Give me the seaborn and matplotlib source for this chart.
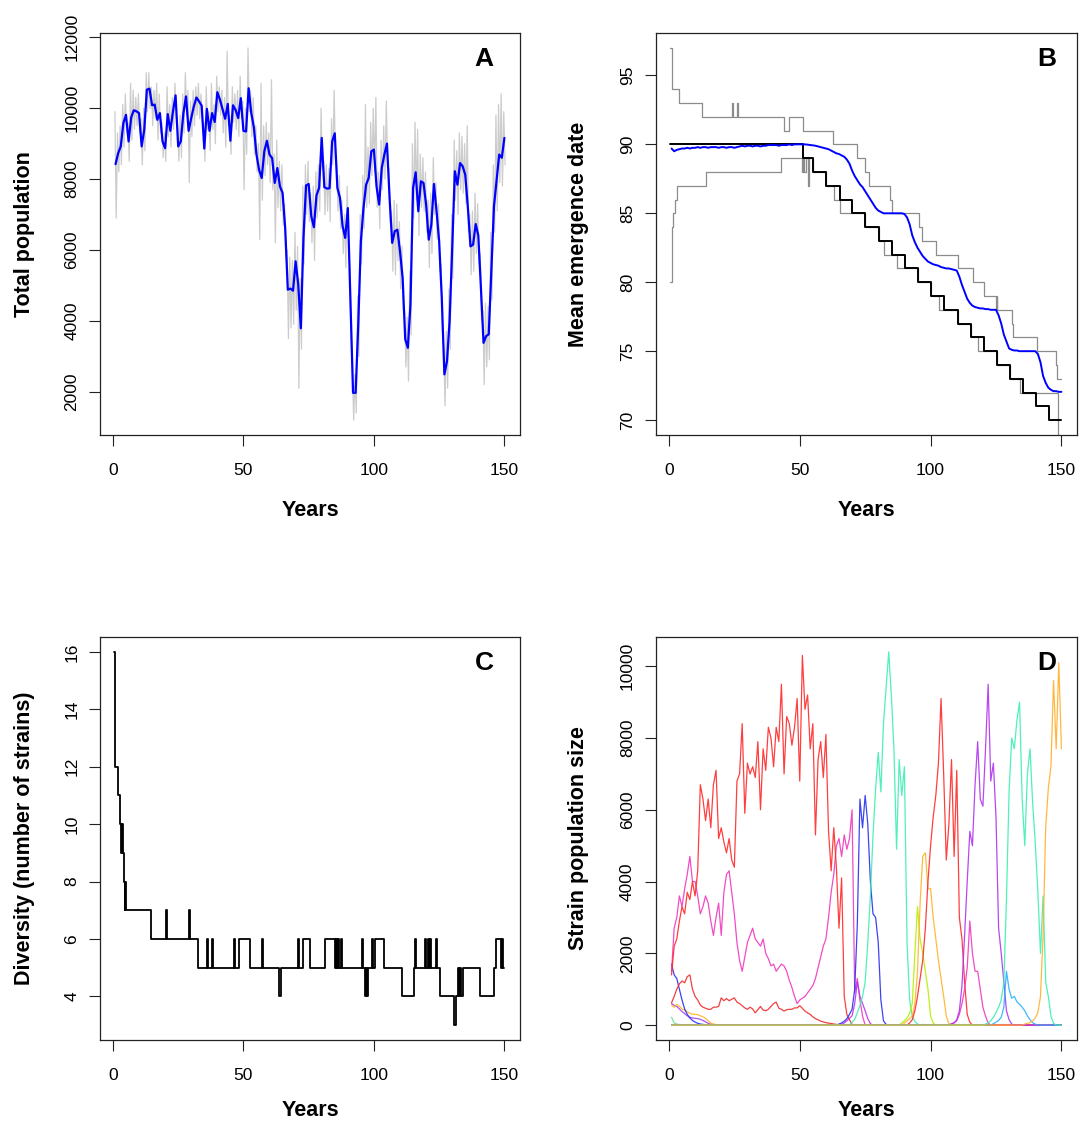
import numpy as np
import pandas as pd
import matplotlib
matplotlib.use("Agg")
import matplotlib.pyplot as plt
import seaborn as sns

# ── 1. Data ──────────────────────────────────────────────────────────────────
YEARS = np.arange(1, 151)

# A: total population, annual mean (blue) and within-year high/low (grey)
pop_mean = [8420, 8730, 8920, 9580, 9810, 9060, 9740, 9940, 9910, 9860,
            8920, 9390, 10520, 10550, 10080, 10100, 9670, 9860, 9060, 8870,
            9830, 9360, 9910, 10360, 8920, 9060, 9860, 10330, 9360, 9720,
            10050, 10300, 10190, 10070, 8860, 9980, 9360, 9860, 9610, 10450,
            10240, 9970, 9700, 10120, 9080, 10080, 9950, 9720, 10280, 9360,
            9340, 10560, 9860, 9460, 8690, 8260, 8030, 8780, 9080, 8690,
            8590, 7890, 8310, 7790, 7610, 6620, 4880, 4910, 4850, 5680,
            5030, 3790, 6340, 7820, 7860, 6950, 6640, 7540, 7750, 9160,
            7770, 7730, 7740, 9060, 9290, 7750, 7470, 6670, 6340, 7180,
            4550, 1970, 1970, 3900, 6240, 7180, 7840, 8030, 8780, 8830,
            7790, 7280, 8310, 8690, 9000, 7470, 6200, 6530, 6570, 5960,
            5210, 3480, 3240, 4460, 7750, 8190, 7090, 7935, 7890, 7280,
            6290, 6710, 7860, 7090, 6240, 4650, 2490, 2860, 3990, 6060,
            8220, 7840, 8450, 8360, 8120, 7200, 6100, 6150, 6730, 6410,
            4930, 3380, 3570, 3620, 5400, 7230, 7950, 8690, 8600, 9160]
pop_hi = [9900, 9300, 9500, 10100, 10400, 9600, 10700, 10500, 10300, 10400,
          9700, 10000, 11000, 11000, 10600, 10500, 10700, 10400, 9600, 9300,
          10600, 10100, 10300, 10700, 9500, 9800, 10400, 11000, 10500, 10200,
          10500, 10600, 10700, 10400, 9600, 10600, 9900, 10700, 10100, 10900,
          10600, 10500, 10300, 11600, 9800, 10600, 10400, 10500, 10900, 10200,
          10000, 11700, 10500, 10300, 9500, 9000, 10700, 9500, 9600, 9300,
          10800, 8700, 9100, 8500, 8400, 7300, 6000, 5800, 5700, 6500,
          6100, 5200, 7800, 8400, 8500, 7600, 7800, 8200, 8400, 10000,
          8500, 8400, 8300, 9700, 10500, 8400, 8100, 7400, 7000, 7800,
          5500, 2600, 2500, 4700, 7000, 8100, 10100, 8900, 9600, 10000,
          10300, 8200, 9100, 9500, 10200, 8300, 7100, 7400, 7300, 6800,
          6100, 4300, 4100, 5400, 9000, 9600, 9400, 8700, 8600, 8200,
          7400, 7600, 8600, 7900, 7300, 5600, 3300, 3700, 4900, 7000,
          9100, 8800, 9300, 9200, 9000, 9500, 7000, 7100, 7600, 7300,
          5900, 4300, 4500, 4400, 6500, 8400, 9800, 10100, 10400, 9900]
pop_lo = [6900, 8200, 8400, 8900, 9300, 8500, 9100, 9400, 9500, 9300,
          8400, 8800, 9900, 10000, 9500, 9700, 9100, 9300, 8600, 8500,
          9200, 8900, 9400, 9800, 8500, 8600, 9300, 9800, 7900, 9200,
          9500, 9800, 9700, 9600, 8500, 9400, 8800, 9400, 9000, 9900,
          9800, 9300, 8900, 9500, 8700, 9600, 9400, 9200, 9700, 7700,
          8700, 9900, 9200, 8700, 8200, 6300, 7400, 8100, 8400, 7900,
          7700, 6200, 7200, 7100, 6700, 5800, 3500, 3800, 3900, 4300,
          2100, 3200, 5600, 7000, 6800, 6200, 5700, 6900, 7100, 8300,
          7000, 7100, 6800, 8400, 8600, 7100, 6600, 5900, 5500, 6400,
          3500, 1200, 1400, 3000, 5600, 6600, 7200, 7300, 8100, 8200,
          7200, 6600, 7700, 8000, 8300, 6800, 5400, 5300, 5700, 4900,
          4300, 2700, 2300, 3600, 6900, 7400, 6400, 7200, 7100, 6500,
          5500, 5900, 7000, 6300, 5400, 3700, 1600, 2100, 3200, 5200,
          7400, 7000, 7700, 7600, 7300, 6500, 5300, 5400, 5900, 5600,
          4000, 2200, 2700, 2900, 4600, 6500, 7100, 7900, 7800, 8400]

# B: emergence date, mean (blue) plus max/min/optimum as change points
emerg_mean = [89.7, 89.5, 89.6, 89.65, 89.7, 89.7, 89.75, 89.7, 89.75, 89.75,
              89.8, 89.75, 89.8, 89.8, 89.75, 89.8, 89.8, 89.8, 89.75, 89.8,
              89.8, 89.75, 89.8, 89.8, 89.75, 89.8, 89.85, 89.9, 89.85, 89.9,
              89.9, 89.85, 89.9, 89.9, 89.85, 89.9, 89.9, 89.95, 89.95, 89.95,
              89.95, 89.9, 89.95, 89.95, 89.95, 90.0, 89.95, 90.0, 90.0, 90.0,
              90.0, 90.0, 89.98, 89.95, 89.93, 89.9, 89.85, 89.8, 89.75, 89.7,
              89.65, 89.55, 89.45, 89.35, 89.3, 89.2, 89.1, 88.9, 88.6, 88.1,
              87.7, 87.4, 87.1, 86.9, 86.6, 86.3, 86.0, 85.7, 85.4, 85.2,
              85.1, 85.0, 85.0, 85.0, 85.0, 85.0, 85.0, 85.0, 85.0, 84.95,
              84.7, 84.2, 83.4, 82.9, 82.5, 82.2, 81.9, 81.7, 81.5, 81.4,
              81.3, 81.25, 81.2, 81.1, 81.05, 81.0, 81.0, 80.95, 80.9, 80.85,
              80.4, 79.8, 79.3, 78.8, 78.5, 78.3, 78.2, 78.15, 78.1, 78.1,
              78.05, 78.05, 78.0, 78.0, 78.0, 77.6, 77.0, 76.2, 75.7, 75.2,
              75.1, 75.05, 75.05, 75.0, 75.0, 75.0, 75.0, 75.0, 75.0, 75.0,
              74.8, 74.2, 73.2, 72.7, 72.35, 72.2, 72.1, 72.1, 72.05, 72.05]
emerg_max_t = [0.5, 1.0, 3.7, 12.7, 24.0, 24.4, 26.0, 26.4, 44.0, 45.7,
               51.4, 62.7, 71.7, 75.0, 76.4, 84.3, 85.3, 95.6, 96.6, 102.2,
               110.3, 116.3, 120.5, 125.0, 125.2, 125.5, 131.2, 131.6, 140.6, 147.8,
               148.2, 150.0]
emerg_max_v = [97, 94, 93, 92, 93, 92, 93, 92, 91, 92,
               91, 90, 89, 88, 87, 86, 85, 84, 83, 82,
               81, 80, 79, 78, 79, 78, 77, 76, 75, 74,
               73, 73]
emerg_min_t = [0.5, 1.3, 1.6, 2.2, 3.0, 14.3, 42.9, 50.8, 51.2, 51.6,
               52.4, 53.2, 53.6, 55.0, 60.0, 63.0, 65.5, 75.1, 80.2, 82.1,
               87.3, 95.3, 100.1, 103.3, 110.3, 115.4, 118.0, 125.3, 130.4, 134.0,
               148.6, 150.0]
emerg_min_v = [80, 84, 85, 86, 87, 88, 89, 88, 89, 88,
               89, 87, 89, 88, 87, 86, 85, 84, 83, 82,
               81, 80, 79, 78, 77, 76, 75, 74, 73, 72,
               66, 66]
optimum_t = [0.5, 51.4, 55.0, 60.0, 65.3, 70.0, 75.1, 80.2, 85.3, 90.2, 95.3,
             100.1, 105.2, 110.3, 115.4, 120.3, 125.3, 130.4, 135.2, 140.1,
             145.2, 150.0]
optimum_v = [90, 89, 88, 87, 86, 85, 84, 83, 82, 81, 80,
             79, 78, 77, 76, 75, 74, 73, 72, 71, 70, 70]

# C: number of strains, change points
div_t = [0.5, 0.9, 2.0, 2.8, 3.2, 3.5, 3.8, 4.2, 4.5, 4.7, 4.9,
         14.7, 20.3, 20.7, 29.3, 29.7, 32.5, 36.0, 36.4, 37.8, 38.3,
         46.2, 46.6, 48.4, 52.7, 57.1, 57.5, 63.8, 64.4, 70.8, 71.3,
         72.7, 75.5, 81.3, 85.0, 85.5, 85.9, 86.3, 86.8, 87.2, 87.7,
         95.3, 95.7, 96.4, 97.0, 97.4, 97.9, 99.2, 99.6, 100.5, 103.8,
         110.8, 115.3, 115.9, 116.3, 119.7, 120.1, 120.7, 121.1, 121.6, 122.0,
         123.8, 124.3, 125.5, 130.8, 131.6, 132.1, 132.5, 133.0, 133.4, 134.0,
         140.6, 146.0, 146.7, 148.6, 149.0, 149.6, 150.0]
div_v = [16, 12, 11, 10, 9, 10, 9, 8, 7, 8, 7,
         6, 7, 6, 7, 6, 5, 6, 5, 6, 5,
         6, 5, 6, 5, 6, 5, 4, 5, 6, 5,
         6, 5, 6, 5, 6, 5, 6, 5, 6, 5,
         6, 5, 4, 5, 4, 5, 6, 5, 6, 5,
         4, 5, 6, 5, 6, 5, 6, 5, 6, 5,
         6, 5, 4, 3, 4, 5, 4, 5, 4, 5,
         4, 5, 6, 5, 6, 5, 5]

# D: strain population sizes (first year, yearly values)
strains = {
    "green_a":   (1, [220, 60, 30, 15]),
    "purple_a":  (1, [600, 550, 520, 450, 380, 320, 260, 220, 200, 190, 180, 160, 130, 90, 50, 25, 10]),
    "orange_a":  (1, [550, 500, 580, 520, 450, 420, 370, 330, 300, 300, 290, 260, 230, 190, 120, 60, 30, 15]),
    "blue_a":    (1, [1700, 1400, 1300, 1000, 700, 450, 300, 200, 130, 85, 50, 30, 20, 10, 5]),
    "red_b":     (1, [620, 800, 1000, 1150, 1230, 1180, 1350, 1400, 1000, 800,
                      700, 560, 500, 470, 440, 440, 500, 500, 520, 760,
                      680, 740, 680, 720, 760, 640, 600, 540, 480, 440,
                      500, 450, 340, 430, 520, 420, 400, 440, 520, 600,
                      640, 470, 440, 390, 430, 440, 440, 480, 480, 540,
                      470, 390, 340, 300, 230, 180, 150, 110, 90, 70,
                      55, 45, 30, 20, 10]),
    "magenta_a": (1, [1500, 2700, 3000, 3600, 3300, 3800, 4200, 4700, 4000, 4000,
                      3600, 3100, 3300, 3600, 3400, 2900, 2500, 3000, 3400, 2500,
                      3700, 4200, 4300, 3700, 3100, 2300, 1800, 1500, 1900, 2300,
                      2500, 2700, 2400, 2300, 2200, 2400, 2000, 1850, 1650, 1700,
                      1500, 1600, 1700, 1650, 1500, 1250, 1050, 800, 600, 700,
                      750, 800, 900, 1000, 1100, 1300, 1600, 1900, 2200, 2400,
                      3000, 3700, 4200, 5000, 5200, 4700, 5300, 4900, 5200, 6000,
                      900, 1300, 700, 250]),
    "red_a":     (1, [1400, 2200, 2400, 2900, 3300, 3100, 3700, 3500, 4000, 3600,
                      4300, 6700, 6300, 5700, 6300, 5500, 6700, 7100, 5200, 5500,
                      5100, 4800, 5200, 4600, 4400, 6800, 7000, 8400, 5900, 7300,
                      7000, 7200, 6900, 7900, 6000, 7700, 7100, 8300, 8000, 7200,
                      8300, 7900, 9500, 7000, 8600, 8400, 7800, 8300, 9100, 6800,
                      10300, 8800, 9200, 7700, 8400, 5300, 7400, 7900, 6900, 8100,
                      5400, 4300, 5500, 4400, 2700, 4100, 800, 300, 150, 20]),
    "purple_b":  (66, [20, 60, 120, 190, 260, 600, 1200, 800, 600, 400, 180, 40]),
    "blue_b":    (65, [30, 60, 110, 180, 300, 440, 1000, 2800, 6300, 5500,
                       6400, 5600, 4000, 3100, 3000, 2300, 700, 120, 20]),
    "teal_a":    (70, [80, 160, 340, 550, 800, 1200, 2300, 3600, 5300, 6600,
                       7600, 6500, 8400, 9400, 10400, 9200, 7700, 4900, 7400, 6400,
                       7200, 2300, 700, 250, 100, 30]),
    "lime":      (89, [60, 120, 200, 330, 600, 2000, 3300, 2400, 2000, 1500, 1000, 250, 60]),
    "orange_b":  (90, [60, 120, 180, 250, 600, 1500, 3400, 4700, 4800, 3800,
                       3800, 3000, 2400, 1800, 1300, 800, 250, 40]),
    "red_c":     (92, [60, 150, 400, 800, 1300, 1800, 2700, 4000, 5000, 5800,
                       6400, 7300, 9100, 7000, 4600, 5600, 7400, 4700, 7100, 3000,
                       2400, 1200, 300, 80]),
    "magenta_b": (108, [40, 70, 120, 300, 600, 1000, 1600, 2900, 2000, 1500,
                        1500, 1000, 500, 250, 60]),
    "purple_c":  (108, [30, 60, 150, 400, 1100, 2500, 4000, 5400, 5000, 6700,
                        7900, 6300, 6100, 7700, 9500, 6800, 7300, 5800, 2700, 2000,
                        1200, 400, 150, 30]),
    "sky":       (124, [40, 80, 130, 220, 500, 1500, 1000, 750, 800, 650,
                        580, 500, 400, 260, 150, 70, 25]),
    "teal_b":    (121, [30, 60, 120, 220, 350, 500, 700, 1200, 3500, 6500,
                        8000, 7700, 8500, 9000, 6300, 5000, 7000, 7700, 6200, 5100,
                        3700, 2000, 3600, 1200, 800, 250, 50]),
    "orange_c":  (136, [30, 50, 70, 120, 200, 350, 800, 2500, 5500, 6600,
                        7200, 9600, 7700, 10100, 7700]),
}
strain_colors = {
    "green_a": "#70E08C", "purple_a": "#A040F0", "orange_a": "#FFB428",
    "blue_a": "#2830F0", "red_b": "#EE2C2C", "magenta_a": "#F038C0",
    "red_a": "#FF2A2A", "purple_b": "#C030E8", "blue_b": "#2830F0",
    "teal_a": "#3CF0B0", "lime": "#B4F000", "orange_b": "#FFB428",
    "red_c": "#FF2A2A", "magenta_b": "#F038C0", "purple_c": "#B034F0",
    "sky": "#28B0FF", "teal_b": "#3CF0B0", "orange_c": "#FFB030",
}

# ── 2. Style ─────────────────────────────────────────────────────────────────
sns.set_style("white")
plt.rcParams["font.family"] = ["Liberation Sans", "DejaVu Sans"]
plt.rcParams["text.color"] = "black"
plt.rcParams["axes.labelcolor"] = "black"
plt.rcParams["xtick.color"] = "black"
plt.rcParams["ytick.color"] = "black"

XLIM = (YEARS[0] - 0.04 * (YEARS[-1] - YEARS[0]), YEARS[-1] + 0.04 * (YEARS[-1] - YEARS[0]))
LABEL_KW = dict(fontsize=15.5, fontweight="bold", color="black")


def r_axes(ax, yticks, ylab, ylab_x, xlab_y, letter, letter_x):
    ax.set_xlim(*XLIM)
    ax.set_xticks([0, 50, 100, 150])
    ax.set_yticks(yticks)
    ax.tick_params(axis="both", direction="out", length=8, width=0.8,
                   color="#222222", labelcolor="black", labelsize=12.5,
                   left=True, bottom=True)
    ax.tick_params(axis="x", pad=12)
    ax.tick_params(axis="y", pad=7)
    for lab in ax.get_yticklabels():
        lab.set_rotation(90)
        lab.set_va("center")
    for sp in ax.spines.values():
        sp.set_visible(True)
        sp.set_linewidth(0.9)
        sp.set_color("#222222")
    ax.set_xlabel("Years", **LABEL_KW)
    ax.set_ylabel(ylab, **LABEL_KW)
    ax.xaxis.set_label_coords(0.5, xlab_y)
    ax.xaxis.label.set_va("center")
    ax.yaxis.set_label_coords(ylab_x, 0.5)
    ax.yaxis.label.set_va("center")
    ax.text(letter_x, 0.935, letter, transform=ax.transAxes, fontsize=19,
            fontweight="bold", ha="center", va="center", color="black")


fig = plt.figure(figsize=(10.81, 11.29), dpi=100)
axA = fig.add_axes([0.0925, 0.6147, 0.3885, 0.3561])
axB = fig.add_axes([0.6068, 0.6147, 0.3895, 0.3561])
axC = fig.add_axes([0.0925, 0.0788, 0.3885, 0.3570])
axD = fig.add_axes([0.6068, 0.0788, 0.3895, 0.3570])

# ── 3. Panel A ───────────────────────────────────────────────────────────────
gx = np.ravel(np.column_stack([YEARS - 0.25, YEARS + 0.25]))
gy = np.ravel(np.column_stack([pop_hi, pop_lo]))
sns.lineplot(x=gx, y=gy, ax=axA, color="#CCCCCC", lw=0.9,
             estimator=None, sort=False)
sns.lineplot(x=YEARS, y=pop_mean, ax=axA, color="#0000FF", lw=1.6,
             estimator=None)
axA.margins(y=0.04)
r_axes(axA, [2000, 4000, 6000, 8000, 10000, 12000], "Total population",
       -0.179, -0.189, "A", 0.915)

# ── 4. Panel B ───────────────────────────────────────────────────────────────
sns.lineplot(x=emerg_max_t, y=emerg_max_v, ax=axB, color="#8C8C8C", lw=0.9,
             drawstyle="steps-post", estimator=None)
sns.lineplot(x=emerg_min_t, y=emerg_min_v, ax=axB, color="#8C8C8C", lw=0.9,
             drawstyle="steps-post", estimator=None)
sns.lineplot(x=optimum_t, y=optimum_v, ax=axB, color="black", lw=1.4,
             drawstyle="steps-post", estimator=None)
sns.lineplot(x=YEARS, y=emerg_mean, ax=axB, color="#0000FF", lw=1.4,
             estimator=None)
lo, hi = min(optimum_v), max(emerg_max_v)
axB.set_ylim(lo - 0.04 * (hi - lo), hi + 0.04 * (hi - lo))
r_axes(axB, [70, 75, 80, 85, 90, 95], "Mean emergence date",
       -0.183, -0.189, "B", 0.927)

# ── 5. Panel C ───────────────────────────────────────────────────────────────
sns.lineplot(x=div_t, y=div_v, ax=axC, color="black", lw=1.3,
             drawstyle="steps-post", estimator=None)
axC.margins(y=0.04)
r_axes(axC, [4, 6, 8, 10, 12, 14, 16], "Diversity (number of strains)",
       -0.179, -0.176, "C", 0.915)

# ── 6. Panel D ───────────────────────────────────────────────────────────────
rows = []
for name, (start, vals) in strains.items():
    full = np.zeros(len(YEARS))
    full[start - 1:start - 1 + len(vals)] = vals
    rows.append(pd.DataFrame({"year": YEARS, "size": full, "strain": name}))
df_d = pd.concat(rows, ignore_index=True)
sns.lineplot(data=df_d, x="year", y="size", hue="strain",
             hue_order=list(strains.keys()), palette=strain_colors,
             ax=axD, lw=0.9, alpha=0.9, legend=False, estimator=None)
axD.margins(y=0.04)
r_axes(axD, [0, 2000, 4000, 6000, 8000, 10000], "Strain population size",
       -0.183, -0.176, "D", 0.928)

fig.savefig("out.png", dpi=100)
